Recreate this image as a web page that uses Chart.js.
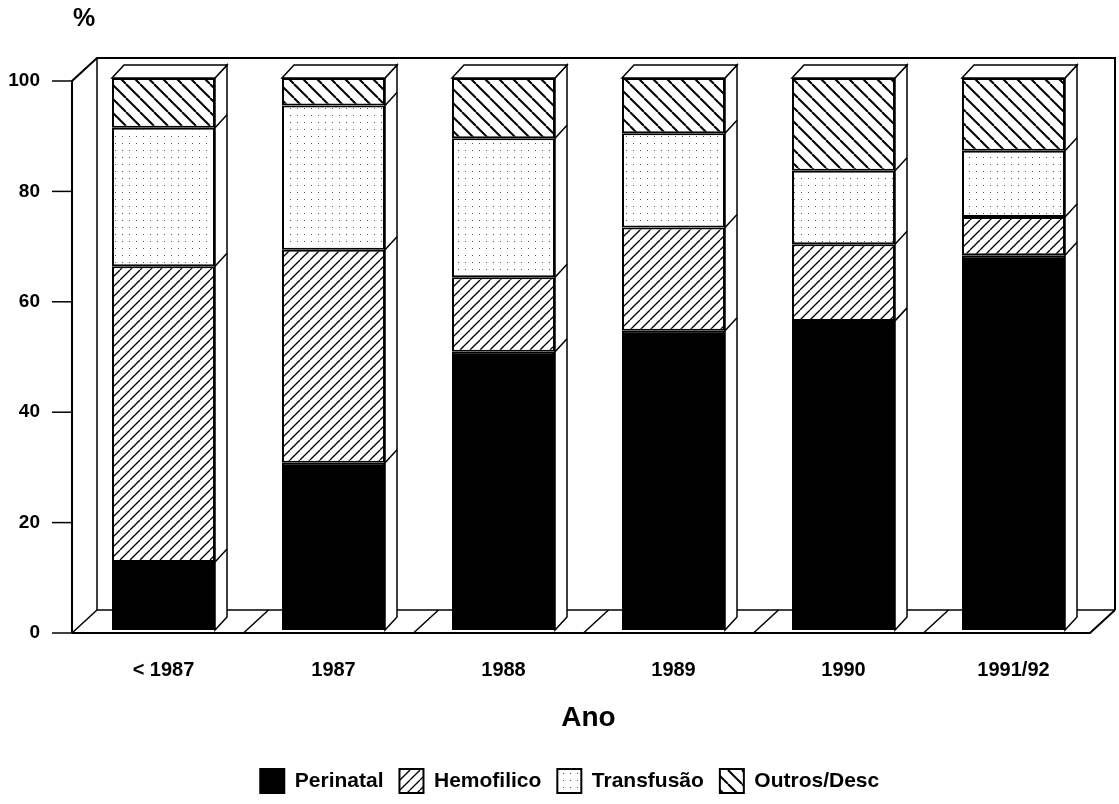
<!DOCTYPE html>
<html>
<head>
<meta charset="utf-8">
<title>Perinatal / Hemofilico / Transfusão / Outros</title>
<script src="https://cdn.jsdelivr.net/npm/chart.js@4/dist/chart.umd.min.js"></script>
<style>
    html, body { margin: 0; padding: 0; background: #fff; }
    #wrap { width: 1119px; height: 804px; }
</style>
</head>
<body>
<div id="wrap"><canvas id="chart" width="1119" height="804"></canvas></div>
<script>
// 數據（各年度的百分比）
const years = ['< 1987', '1987', '1988', '1989', '1990', '1991/92'];
const perinatal = [12.3, 30.3, 50.4, 54.2, 56.0, 67.9];
const hemofilico = [53.6, 38.6, 13.5, 18.7, 13.9, 6.9];
const transfusao = [25.1, 26.1, 25.2, 17.1, 13.3, 12.0];
const outros = [9.0, 5.0, 10.9, 10.0, 16.8, 13.2];
const yTicks = [0, 20, 40, 60, 80, 100];

const FONT = '"Liberation Sans", Arial, sans-serif';

// 圖樣填充
function makePattern(size, draw) {
    const c = document.createElement('canvas');
    c.width = size;
    c.height = size;
    const g = c.getContext('2d');
    g.fillStyle = '#fff';
    g.fillRect(0, 0, size, size);
    draw(g, size);
    return g.createPattern(c, 'repeat');
}

const ctx = document.getElementById('chart').getContext('2d');

const slashPattern = makePattern(10, function(g, p) {
    g.strokeStyle = '#000';
    g.lineWidth = 1.3;
    [-p, 0, p].forEach(function(o) {
        g.beginPath();
        g.moveTo(o, p);
        g.lineTo(o + p, 0);
        g.stroke();
    });
});

const backslashPattern = makePattern(14, function(g, p) {
    g.strokeStyle = '#000';
    g.lineWidth = 2;
    [-p, 0, p].forEach(function(o) {
        g.beginPath();
        g.moveTo(o, 0);
        g.lineTo(o + p, p);
        g.stroke();
    });
});

const dotPattern = makePattern(7, function(g) {
    g.fillStyle = '#555';
    g.fillRect(3, 3, 1, 1);
});

// 3D 背景：牆面、地板、Y 軸
const backdrop = {
    id: 'backdrop',
    beforeDatasetsDraw(chart) {
        const c = chart.ctx;
        const area = chart.chartArea;
        const ys = chart.scales.y;
        const xs = chart.scales.x;
        const fx = area.left - 6.5;
        const fy0 = ys.getPixelForValue(0) + 3;
        const fyTop = ys.getPixelForValue(100) + 3;
        const dx = 25, dy = -23;
        const rightBack = area.right + 16.5;
        const rightFront = area.right - 8.5;

        c.save();
        c.strokeStyle = '#000';
        c.lineWidth = 2;
        c.beginPath();
        // 軸線
        c.moveTo(fx, fy0);
        c.lineTo(fx, fyTop);
        c.lineTo(fx + dx, fyTop + dy);
        c.lineTo(rightBack, fyTop + dy);
        c.lineTo(rightBack, fy0 + dy);
        c.stroke();

        c.lineWidth = 1.5;
        c.beginPath();
        c.moveTo(fx + dx, fyTop + dy);
        c.lineTo(fx + dx, fy0 + dy);
        c.lineTo(rightBack, fy0 + dy);
        c.moveTo(fx, fy0);
        c.lineTo(fx + dx, fy0 + dy);
        c.stroke();

        // 地板前緣
        c.lineWidth = 2;
        c.beginPath();
        c.moveTo(fx, fy0);
        c.lineTo(rightFront, fy0);
        c.lineTo(rightBack, fy0 + dy);
        c.stroke();

        // 地板分隔線
        c.lineWidth = 1.5;
        for (let i = 0; i < years.length - 1; i++) {
            const b = (xs.getPixelForValue(i) + xs.getPixelForValue(i + 1)) / 2 - 5;
            c.beginPath();
            c.moveTo(b, fy0);
            c.lineTo(b + dx, fy0 + dy);
            c.stroke();
        }

        // 刻度線
        c.lineWidth = 1.5;
        yTicks.forEach(function(v) {
            const y = ys.getPixelForValue(v) + 3;
            c.beginPath();
            c.moveTo(fx - 20, y);
            c.lineTo(fx, y);
            c.stroke();
        });

        // 單位
        c.fillStyle = '#000';
        c.font = 'bold 25px ' + FONT;
        c.textAlign = 'left';
        c.textBaseline = 'middle';
        c.fillText('%', 73, 19);
        c.restore();
    },
    // 柱體側面與頂面
    afterDatasetsDraw(chart) {
        const c = chart.ctx;
        const n = chart.data.datasets.length;
        const dx = 12, dy = -13;
        c.save();
        c.strokeStyle = '#000';
        c.fillStyle = '#fff';
        c.lineWidth = 1.5;
        for (let i = 0; i < years.length; i++) {
            const first = chart.getDatasetMeta(0).data[i];
            const last = chart.getDatasetMeta(n - 1).data[i];
            const xl = first.x - first.width / 2;
            const xr = first.x + first.width / 2;
            const yb = first.base;
            const yt = last.y;

            c.beginPath();
            c.moveTo(xr, yt);
            c.lineTo(xr + dx, yt + dy);
            c.lineTo(xr + dx, yb + dy);
            c.lineTo(xr, yb);
            c.closePath();
            c.fill();
            c.stroke();

            c.beginPath();
            c.moveTo(xl, yt);
            c.lineTo(xl + dx, yt + dy);
            c.lineTo(xr + dx, yt + dy);
            c.lineTo(xr, yt);
            c.closePath();
            c.fill();
            c.stroke();

            for (let d = 0; d < n - 1; d++) {
                const y = chart.getDatasetMeta(d).data[i].y;
                c.beginPath();
                c.moveTo(xr, y);
                c.lineTo(xr + dx, y + dy);
                c.stroke();
            }
        }
        c.restore();
    }
};

function series(label, values, fill) {
    return {
        label: label,
        data: values,
        backgroundColor: fill,
        borderColor: '#000',
        borderWidth: 2,
        borderSkipped: false,
        barPercentage: 0.606,
        categoryPercentage: 1
    };
}

new Chart(ctx, {
    type: 'bar',
    data: {
        labels: years,
        datasets: [
            series('Perinatal', perinatal, '#000'),
            series('Hemofilico', hemofilico, slashPattern),
            series('Transfusão', transfusao, dotPattern),
            series('Outros/Desc', outros, backslashPattern)
        ]
    },
    options: {
        responsive: false,
        animation: false,
        layout: {
            padding: { left: 41, right: 20.5, top: 78, bottom: 1 }
        },
        plugins: {
            tooltip: { enabled: false },
            legend: {
                position: 'bottom',
                labels: {
                    color: '#000',
                    boxWidth: 24,
                    boxHeight: 24,
                    padding: 16,
                    font: { family: FONT, size: 21, weight: 'bold' }
                }
            }
        },
        scales: {
            x: {
                stacked: true,
                grid: { display: false, drawTicks: false },
                border: { display: false },
                ticks: {
                    color: '#000',
                    padding: 28,
                    font: { family: FONT, size: 20, weight: 'bold' }
                },
                title: {
                    display: true,
                    text: 'Ano',
                    color: '#000',
                    padding: { top: 0, bottom: 18 },
                    font: { family: FONT, size: 28, weight: 'bold' }
                },
                afterFit: function(scale) { scale.height = 123; }
            },
            y: {
                stacked: true,
                min: 0,
                max: 100,
                afterBuildTicks: function(scale) {
                    scale.ticks = yTicks.map(function(v) { return { value: v }; });
                },
                grid: { display: false, drawTicks: false },
                border: { display: false },
                ticks: {
                    color: '#000',
                    padding: 38.5,
                    labelOffset: 3,
                    font: { family: FONT, size: 19, weight: 'bold' }
                },
                afterFit: function(scale) {
                    scale.width = 37.5;
                    // 刻度文字超出軸框，不裁切
                    scale._computeLabelArea = function() { return undefined; };
                }
            }
        }
    },
    plugins: [backdrop]
});
</script>
</body>
</html>
